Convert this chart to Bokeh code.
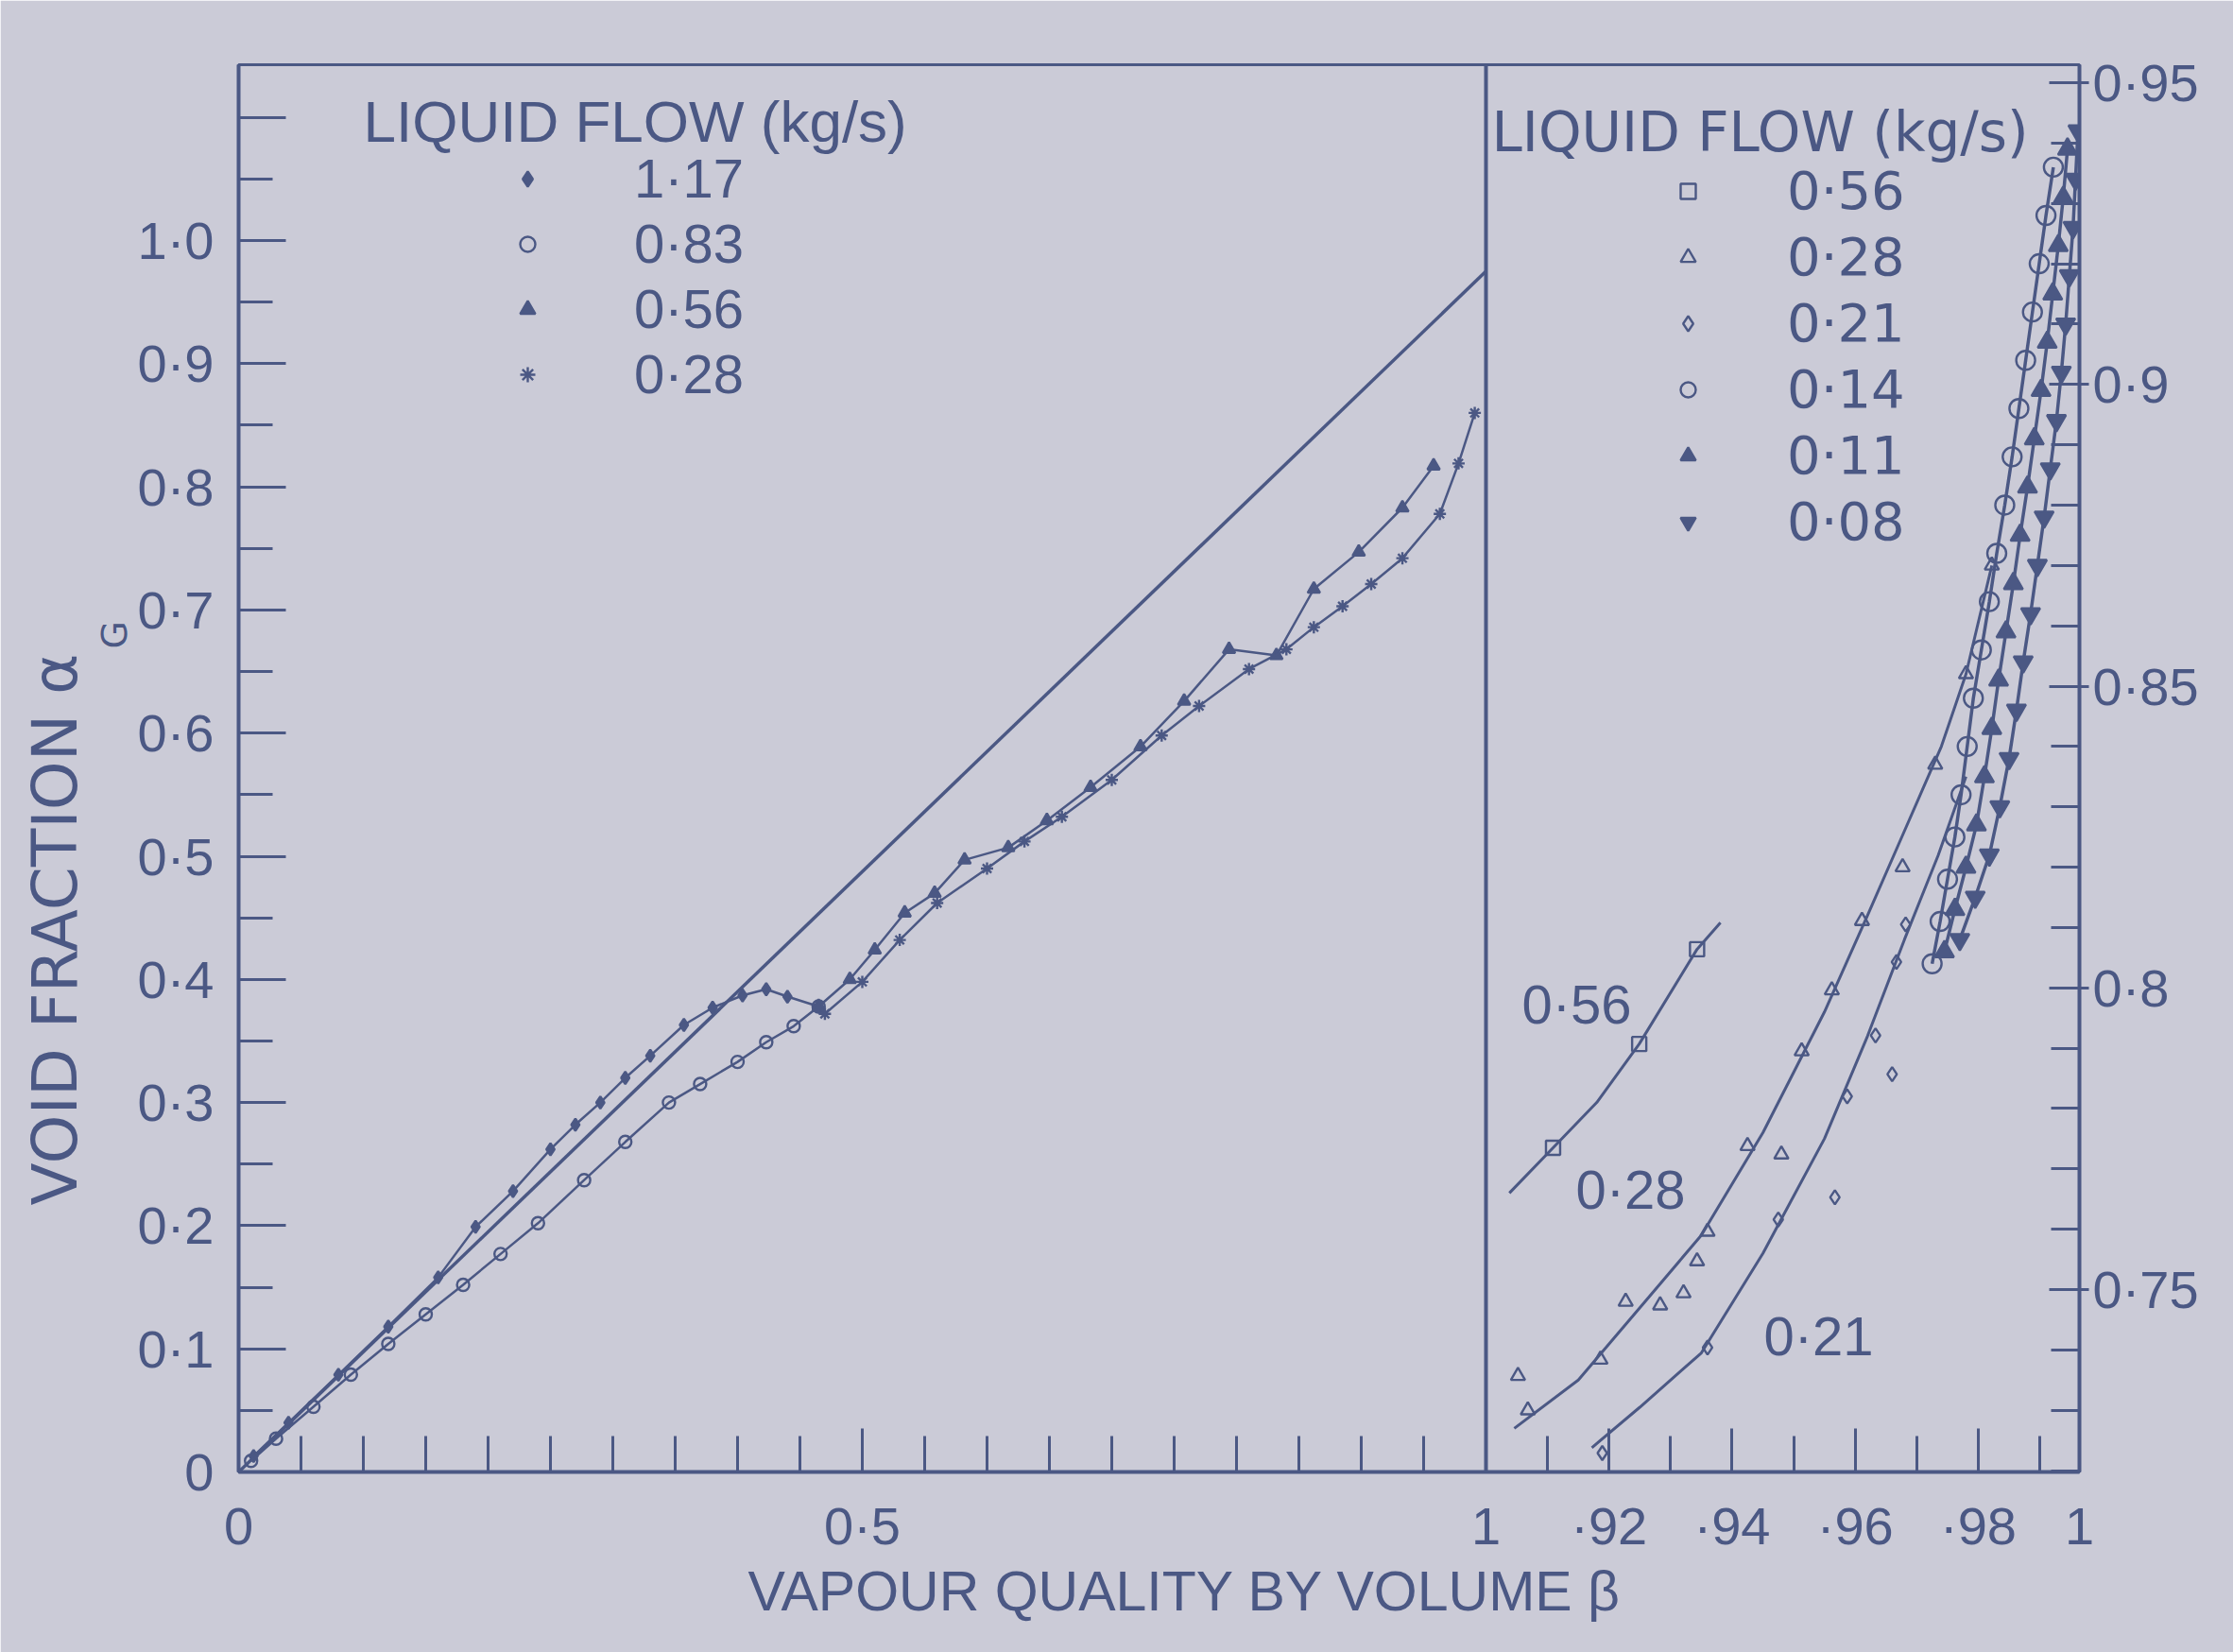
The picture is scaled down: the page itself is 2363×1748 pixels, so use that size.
import math
from bokeh.plotting import figure
from bokeh.models import Range1d, LinearAxis, FixedTicker, Span, Label, Legend, LegendItem, Title
from bokeh.embed import file_html
from bokeh.resources import INLINE

# ---------------- data ----------------
# left panel: void fraction vs volumetric vapour quality (beta 0..1)
homog_beta = [0.0, 1.0]
homog_alpha = [0.0, 0.975]

beta_117 = [0.012, 0.04, 0.08, 0.12, 0.16, 0.19, 0.22, 0.25, 0.27, 0.29, 0.31, 0.33, 0.357, 0.38, 0.404, 0.423, 0.44, 0.465]
alpha_117 = [0.013, 0.04, 0.079, 0.118, 0.158, 0.199, 0.228, 0.262, 0.282, 0.300, 0.320, 0.338, 0.363, 0.377, 0.387, 0.392, 0.386, 0.378]

beta_083 = [0.01, 0.03, 0.06, 0.09, 0.12, 0.15, 0.18, 0.21, 0.24, 0.277, 0.31, 0.345, 0.37, 0.40, 0.423, 0.445, 0.465]
alpha_083 = [0.009, 0.027, 0.053, 0.079, 0.104, 0.128, 0.152, 0.177, 0.202, 0.237, 0.268, 0.300, 0.315, 0.333, 0.349, 0.362, 0.378]

beta_056 = [0.465, 0.49, 0.51, 0.534, 0.558, 0.582, 0.617, 0.648, 0.683, 0.723, 0.758, 0.794, 0.832, 0.862, 0.898, 0.933, 0.958]
alpha_056 = [0.378, 0.40, 0.424, 0.454, 0.47, 0.497, 0.507, 0.529, 0.556, 0.589, 0.626, 0.668, 0.663, 0.717, 0.747, 0.783, 0.817]

beta_028 = [0.47, 0.50, 0.53, 0.56, 0.60, 0.63, 0.66, 0.70, 0.74, 0.77, 0.81, 0.84, 0.862, 0.885, 0.908, 0.933, 0.963, 0.978, 0.991]
alpha_028 = [0.372, 0.398, 0.432, 0.462, 0.49, 0.512, 0.532, 0.562, 0.598, 0.622, 0.652, 0.668, 0.686, 0.703, 0.721, 0.742, 0.778, 0.819, 0.86]

# right panel: expanded region beta 0.9..1
r056_beta = [0.9109, 0.9249, 0.9343]
r056_alpha = [0.7735, 0.7907, 0.8064]
r056_fit_beta = [0.9038, 0.9109, 0.918, 0.9249, 0.9343, 0.9381]
r056_fit_alpha = [0.766, 0.7735, 0.781, 0.7907, 0.8064, 0.8108]

r028_beta = [0.9052, 0.9068, 0.9186, 0.9227, 0.9283, 0.9321, 0.9343, 0.936, 0.9425, 0.948, 0.9513, 0.9562, 0.9611, 0.9677, 0.973, 0.978, 0.9822]
r028_alpha = [0.7357, 0.730, 0.7384, 0.748, 0.7474, 0.7494, 0.7547, 0.7596, 0.7738, 0.7724, 0.7895, 0.7996, 0.8111, 0.820, 0.837, 0.852, 0.870]
r028_fit_beta = [0.9046, 0.915, 0.925, 0.935, 0.945, 0.955, 0.962, 0.968, 0.974, 0.978, 0.9822]
r028_fit_alpha = [0.727, 0.735, 0.747, 0.759, 0.776, 0.796, 0.812, 0.826, 0.840, 0.852, 0.870]

r021_beta = [0.9189, 0.936, 0.9475, 0.9587, 0.9633, 0.9682, 0.9567, 0.966, 0.9667]
r021_alpha = [0.7229, 0.7404, 0.7616, 0.782, 0.7921, 0.8105, 0.7653, 0.7857, 0.8043]
r021_fit_beta = [0.9172, 0.925, 0.935, 0.945, 0.955, 0.962, 0.968, 0.9735, 0.978]
r021_fit_alpha = [0.7238, 0.7305, 0.7395, 0.756, 0.775, 0.792, 0.808, 0.822, 0.835]

r014_beta = [0.9725, 0.9738, 0.975, 0.9762, 0.9772, 0.9782, 0.9792, 0.9805, 0.9818, 0.983, 0.9843, 0.9855, 0.9866, 0.9877, 0.9888, 0.9899, 0.991, 0.9922]
r014_alpha = [0.804, 0.811, 0.818, 0.825, 0.832, 0.840, 0.848, 0.856, 0.864, 0.872, 0.880, 0.888, 0.896, 0.904, 0.912, 0.920, 0.928, 0.936]

r011_beta = [0.9745, 0.9762, 0.978, 0.9797, 0.981, 0.9822, 0.9833, 0.9845, 0.9857, 0.9868, 0.988, 0.9891, 0.9902, 0.9912, 0.9921, 0.993, 0.9938, 0.9945]
r011_alpha = [0.806, 0.813, 0.820, 0.827, 0.835, 0.843, 0.851, 0.859, 0.867, 0.875, 0.883, 0.891, 0.899, 0.907, 0.915, 0.923, 0.931, 0.939]

r008_beta = [0.977, 0.9795, 0.9818, 0.9835, 0.985, 0.9862, 0.9873, 0.9885, 0.9896, 0.9907, 0.9917, 0.9927, 0.9935, 0.9942, 0.9948, 0.9954, 0.9958, 0.9962]
r008_alpha = [0.808, 0.815, 0.822, 0.830, 0.838, 0.846, 0.854, 0.862, 0.870, 0.878, 0.886, 0.894, 0.902, 0.910, 0.918, 0.926, 0.934, 0.942]

# axis ticks and labels
left_y_ticks = [0.0, 0.1, 0.2, 0.3, 0.4, 0.5, 0.6, 0.7, 0.8, 0.9, 1.0, 1.1]
left_y_labels = ["0", "0·1", "0·2", "0·3", "0·4", "0·5", "0·6", "0·7", "0·8", "0·9", "1·0", ""]
left_x_ticks = [0.0, 0.5, 1.0]
left_x_labels = ["0", "0·5", "1"]
right_x_ticks = [0.92, 0.94, 0.96, 0.98]
right_x_labels = ["·92", "·94", "·96", "·98"]
right_x_end_label = "1"
right_y_ticks = [0.75, 0.80, 0.85, 0.90, 0.95]
right_y_labels = ["0·75", "0·8", "0·85", "0·9", "0·95"]

# ---------------- layout / style ----------------
W, H = 2363, 1748
FL, FR, FT, FB = 252, 2200, 68, 1557      # frame edges (px)
DIV = 1572                                 # px of the panel divider
LPX = DIV - FL                             # px per unit beta, left panel
LPY = 1303                                 # px per unit alpha, left panel
RPX = 6512                                 # px per unit beta, right panel
RPY = 6385                                 # px per unit alpha, right panel
RY_REF_PX = 1364                           # px of alpha = 0.75 on right scale

X1 = (FR - FL) / LPX
Y1 = (FB - FT) / LPY
R0 = 0.9 - (DIV - FL) / RPX
R1 = 0.9 + (FR - DIV) / RPX
RY0 = 0.75 - (FB - RY_REF_PX) / RPY
RY1 = 0.75 + (RY_REF_PX - FT) / RPY

BG = "#cbcbd7"
INK = "#4b5884"
FONT = "Liberation Sans"
FONT2 = "DejaVu Sans"

p = figure(width=W, height=H, x_range=Range1d(0, X1), y_range=Range1d(0, Y1),
           x_axis_type=None, y_axis_type=None, output_backend="svg",
           toolbar_location=None, min_border_left=FL, min_border_right=W - FR,
           min_border_top=FT, min_border_bottom=H - FB)
p.extra_x_ranges = {"r": Range1d(R0, R1)}
p.extra_y_ranges = {"r": Range1d(RY0, RY1)}
p.background_fill_color = BG
p.border_fill_color = BG
p.outline_line_color = INK
p.outline_line_width = 3
for g in p.grid:
    g.visible = False


def to_main_x(b):
    # position of a right-panel beta on the main x scale
    return (b - R0) / (R1 - R0) * X1


def style_axis(ax):
    ax.axis_line_color = INK
    ax.axis_line_width = 4
    ax.major_tick_line_color = INK
    ax.minor_tick_line_color = INK
    ax.major_tick_line_width = 3
    ax.minor_tick_line_width = 3
    ax.major_label_text_color = INK
    ax.major_label_text_font = FONT
    ax.major_label_text_font_size = "56px"


# left axis
ly = LinearAxis(ticker=FixedTicker(ticks=left_y_ticks,
                                   minor_ticks=[t / 20 for t in range(23)]))
ly.major_label_overrides = dict(zip(left_y_ticks, left_y_labels))
style_axis(ly)
ly.major_tick_in, ly.major_tick_out = 50, 0
ly.minor_tick_in, ly.minor_tick_out = 36, 0
ly.major_label_standoff = 26
p.add_layout(ly, "left")

# bottom axis (both panels share it); the last tick closes the expanded scale
bx_major = left_x_ticks + [to_main_x(b) for b in right_x_ticks] + [X1 * (1 - 1e-9)]
bx_minor = [t / 20 for t in range(21)] + [to_main_x(0.9 + i / 100) for i in range(1, 10)]
bx = LinearAxis(ticker=FixedTicker(ticks=bx_major, minor_ticks=bx_minor))
bx.major_label_overrides = dict(zip(bx_major, left_x_labels + right_x_labels + [right_x_end_label]))
style_axis(bx)
bx.major_tick_in, bx.major_tick_out = 46, 0
bx.minor_tick_in, bx.minor_tick_out = 38, 0
bx.major_label_standoff = 25
p.add_layout(bx, "below")

# right axis for the expanded panel
ry = LinearAxis(y_range_name="r",
                ticker=FixedTicker(ticks=right_y_ticks,
                                   minor_ticks=[round(0.72 + i / 100, 2) for i in range(24)]))
ry.major_label_overrides = dict(zip(right_y_ticks, right_y_labels))
style_axis(ry)
ry.major_tick_in, ry.major_tick_out = 32, 10
ry.minor_tick_in, ry.minor_tick_out = 30, 0
ry.major_label_standoff = 4
p.add_layout(ry, "right")

p.add_layout(Span(location=1.0, dimension="height", line_color=INK, line_width=4))

# homogeneous line
p.line(homog_beta, homog_alpha, line_color=INK, line_width=3.5)


def series(xs, ys, marker, fill, rng=False, fit=None, size=13, lw=2.5):
    kw = dict(x_range_name="r", y_range_name="r") if rng else {}
    if fit is None:
        p.line(xs, ys, line_color=INK, line_width=lw, **kw)
    else:
        p.line(fit[0], fit[1], line_color=INK, line_width=lw + 0.5, **kw)
    return p.scatter(xs, ys, marker=marker, size=size, line_color=INK, line_width=2.4,
                     fill_color=INK if fill else None, **kw)


s117 = series(beta_117, alpha_117, "diamond", True)
s083 = series(beta_083, alpha_083, "circle", False)
s056 = series(beta_056, alpha_056, "triangle", True)
s028 = series(beta_028, alpha_028, "asterisk", False)

t056 = series(r056_beta, r056_alpha, "square", False, True, (r056_fit_beta, r056_fit_alpha), 15)
t028 = series(r028_beta, r028_alpha, "triangle", False, True, (r028_fit_beta, r028_fit_alpha), 15)
t021 = series(r021_beta, r021_alpha, "diamond", False, True, (r021_fit_beta, r021_fit_alpha), 15)
t014 = series(r014_beta, r014_alpha, "circle", False, True, size=20, lw=3.5)
t011 = series(r011_beta, r011_alpha, "triangle", True, True, size=20, lw=3.5)
t008 = series(r008_beta, r008_alpha, "inverted_triangle", True, True, size=20, lw=3.5)


def legend(items, x, y, font, size, standoff, spacing):
    lg = Legend(items=[LegendItem(label=t, renderers=[r]) for t, r in items],
                location=(x, y), background_fill_alpha=0, border_line_alpha=0,
                padding=0, margin=0, glyph_width=40, glyph_height=50,
                label_height=50, label_standoff=standoff, spacing=spacing,
                label_text_font=font, label_text_font_size=size,
                label_text_color=INK, label_text_baseline="middle")
    p.add_layout(lg, "center")


legend([("1·17", s117), ("0·83", s083), ("0·56", s056), ("0·28", s028)],
       286, 1128, FONT, "58px", 93, 2)
legend([("0·56", t056), ("0·28", t028), ("0·21", t021), ("0·14", t014),
        ("0·11", t011), ("0·08", t008)],
       1514, 973, FONT2, "56px", 85, 5)


def label(text, x, y, size="58px", font=FONT, align="left"):
    p.add_layout(Label(x=x, y=y, x_units="screen", y_units="screen", text=text,
                       text_font=font, text_font_size=size, text_color=INK,
                       text_align=align, text_baseline="middle"))


# legend headings
label("LIQUID FLOW (kg/s)", 132, FB - 128, "62px")
label("LIQUID  FLOW  (kg/s)", DIV - FL + 6, FB - 139, "58px", FONT2)

# curve labels in the expanded panel
label("0·56", 1668 - FL, FB - 1062, "58px", align="center")
label("0·28", 1725 - FL, FB - 1258, "58px", align="center")
label("0·21", 1924 - FL, FB - 1413, "58px", align="center")


def side_title(text, where, offset, size, font=FONT, standoff=0):
    p.add_layout(Title(text=text, align="left", offset=offset, standoff=standoff,
                       text_font=font, text_font_size=size, text_font_style="normal",
                       text_color=INK), where)


# axis titles
side_title("VAPOUR QUALITY BY VOLUME β", "below", 791 - FL, "59px")
side_title("G", "left", FB - 686, "38px", FONT2)
side_title("VOID FRACTION α", "left", FB - 1275, "66px", FONT2)

open("out.html", "w").write(file_html(p, INLINE))
